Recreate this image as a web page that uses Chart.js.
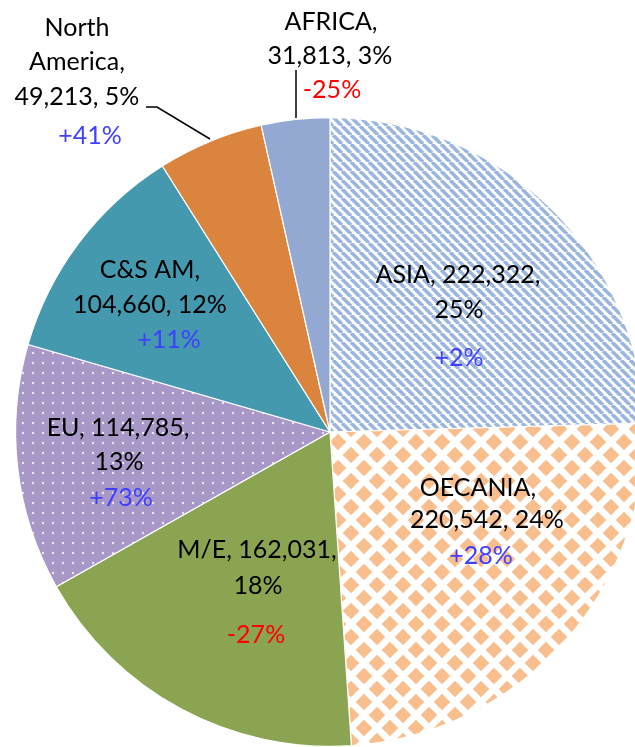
<!DOCTYPE html>
<html>
<head>
<meta charset="utf-8">
<script src="https://cdn.jsdelivr.net/npm/chart.js@4/dist/chart.umd.min.js"></script>
<style>
html,body{margin:0;padding:0;background:#fff;overflow:hidden;}
#wrap{position:absolute;left:0;top:0;width:660px;height:747px;}
</style>
</head>
<body>
<div id="wrap"><canvas id="c"></canvas></div>
<script>
// ---- data ----
const categories = ["ASIA", "OECANIA", "M/E", "EU", "C&S AM", "North America", "AFRICA"];
const values = [222322, 220542, 162031, 114785, 104660, 49213, 31813];
const shareLabels = ["25%", "24%", "18%", "13%", "12%", "5%", "3%"];
const changeLabels = ["+2%", "+28%", "-27%", "+73%", "+11%", "+41%", "-25%"];

// ---- patterns ----
function stripePattern(){
  const s = 9, c = document.createElement('canvas'); c.width = s; c.height = s;
  const x = c.getContext('2d');
  x.fillStyle = '#ffffff'; x.fillRect(0,0,s,s);
  x.strokeStyle = '#9AB6DE'; x.lineWidth = 3.6;
  for (let k=-1;k<=1;k++){
    x.beginPath(); x.moveTo(k*s, 0); x.lineTo(k*s + s, s); x.stroke();
  }
  return x.createPattern(c,'repeat');
}
function diamondPattern(){
  const s = 26, c = document.createElement('canvas'); c.width = s; c.height = s;
  const x = c.getContext('2d');
  x.fillStyle = '#ffffff'; x.fillRect(0,0,s,s);
  x.fillStyle = '#F9BE8E';
  const d = 8.3;
  const pts = [[0,0],[s,0],[0,s],[s,s],[s/2,s/2]];
  pts.forEach(([px,py])=>{
    x.beginPath(); x.moveTo(px,py-d); x.lineTo(px+d,py); x.lineTo(px,py+d); x.lineTo(px-d,py); x.closePath(); x.fill();
  });
  return x.createPattern(c,'repeat');
}
function dotPattern(){
  const s = 10, c = document.createElement('canvas'); c.width = s; c.height = s;
  const x = c.getContext('2d');
  x.fillStyle = '#A898C7'; x.fillRect(0,0,s,s);
  x.fillStyle = 'rgba(240,235,248,0.95)';
  x.beginPath(); x.arc(3,3,1.2,0,Math.PI*2); x.fill();
  return x.createPattern(c,'repeat');
}
const fills = [stripePattern(), diamondPattern(), '#8BA452', dotPattern(), '#4599AE', '#DA843D', '#94A9D2'];

// ---- label layout (offsets from pie centre) ----
const labelLayout = [
  [[128,-157],[129,-122],[129,-74]],
  [[148,56],[157,88],[151,124]],
  [[-73,118],[-72,154],[-74,203]],
  [[-212,-4],[-211,30],[-209,66]],
  [[-180,-162],[-180,-127],[-161,-92]],
  [[-253,-404],[-253,-370],[-253,-335],[-240,-296]],
  [[1,-410],[0,-376],[2,-342]]
];
const leaders = [
  null,null,null,null,null,
  [[-184,-325],[-173,-325],[-120,-293]],
  [[-34,-362],[-34,-314]]
];

const labelPlugin = {
  id: 'sliceLabels',
  afterDatasetsDraw(chart){
    const ctx = chart.ctx;
    const arc0 = chart.getDatasetMeta(0).data[0];
    const cx = arc0.x, cy = arc0.y;
    ctx.save();
    ctx.font = '25px Lato';
    ctx.textAlign = 'center';
    ctx.textBaseline = 'middle';
    categories.forEach((cat,i)=>{
      const val = values[i].toLocaleString('en-US');
      let lines;
      if (cat === 'North America') lines = ['North', 'America,', val + ', ' + shareLabels[i]];
      else if (i === 1 || i === 4 || i === 6) lines = [cat + ',', val + ', ' + shareLabels[i]];
      else lines = [cat + ', ' + val + ',', shareLabels[i]];
      const pos = labelLayout[i];
      lines.forEach((t,j)=>{
        ctx.fillStyle = '#000000';
        ctx.fillText(t, cx + pos[j][0], cy + pos[j][1]);
      });
      const ch = changeLabels[i];
      const p = pos[lines.length];
      ctx.fillStyle = ch.startsWith('-') ? '#FF0000' : '#3F3FFF';
      ctx.fillText(ch, cx + p[0], cy + p[1]);
      const L = leaders[i];
      if (L){
        ctx.strokeStyle = '#000000'; ctx.lineWidth = 1.5;
        ctx.beginPath();
        L.forEach((q,k)=>{ if(k===0) ctx.moveTo(cx+q[0],cy+q[1]); else ctx.lineTo(cx+q[0],cy+q[1]); });
        ctx.stroke();
      }
    });
    ctx.restore();
  }
};

new Chart(document.getElementById('c'), {
  type: 'pie',
  data: {
    labels: categories,
    datasets: [{
      data: values,
      backgroundColor: fills,
      borderColor: '#ffffff',
      borderWidth: 1.2
    }]
  },
  options: {
    responsive: true,
    maintainAspectRatio: false,
    animation: false,
    layout: { padding: { left: 15, right: 15, top: 117, bottom: 0 } },
    plugins: { legend: { display: false }, tooltip: { enabled: false } }
  },
  plugins: [labelPlugin]
});
</script>
</body>
</html>
